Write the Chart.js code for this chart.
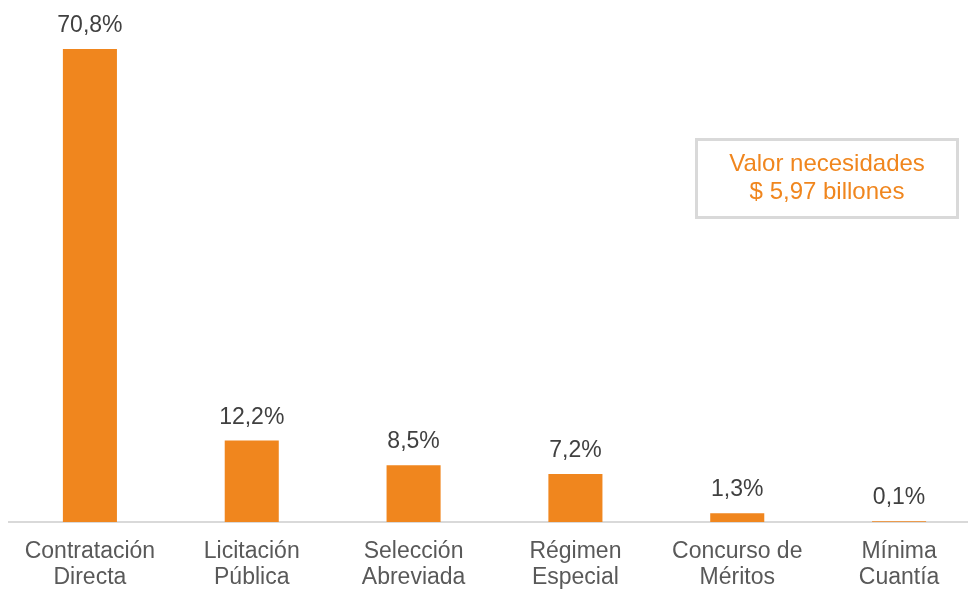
<!DOCTYPE html>
<html>
<head>
<meta charset="utf-8">
<script src="https://cdn.jsdelivr.net/npm/chart.js@4.4.1/dist/chart.umd.min.js"></script>
<style>
  html, body { margin: 0; padding: 0; background: #fff; overflow: hidden; }
  #wrap { width: 980px; height: 589px; }
</style>
</head>
<body>
<div id="wrap"><canvas id="modalidadChart"></canvas></div>
<script>
// Data
const categories = [
  ['Contratación', 'Directa'],
  ['Licitación', 'Pública'],
  ['Selección', 'Abreviada'],
  ['Régimen', 'Especial'],
  ['Concurso de', 'Méritos'],
  ['Mínima', 'Cuantía']
];
const shares = [70.8, 12.2, 8.5, 7.2, 1.3, 0.1];
const boxLines = ['Valor necesidades', '$ 5,97 billones'];

const orange = '#F0861E';
const font = '"Liberation Sans", Arial, sans-serif';

// Percent labels on top of each bar
const valueLabels = {
  id: 'valueLabels',
  afterDatasetsDraw(chart) {
    const ctx = chart.ctx;
    const meta = chart.getDatasetMeta(0);
    ctx.save();
    ctx.font = '23px ' + font;
    ctx.fillStyle = '#404040';
    ctx.textAlign = 'center';
    ctx.textBaseline = 'alphabetic';
    meta.data.forEach((bar, i) => {
      const txt = shares[i].toFixed(1).replace('.', ',') + '%';
      ctx.fillText(txt, bar.x, bar.y - 17);
    });
    ctx.restore();
  }
};

// Text box at the right
const infoBox = {
  id: 'infoBox',
  afterDraw(chart) {
    const ctx = chart.ctx;
    ctx.save();
    ctx.strokeStyle = '#d9d9d9';
    ctx.lineWidth = 3;
    ctx.strokeRect(696.5, 139.5, 261, 78);
    ctx.font = '24px ' + font;
    ctx.fillStyle = orange;
    ctx.textAlign = 'center';
    ctx.textBaseline = 'middle';
    ctx.fillText(boxLines[0], 827, 164);
    ctx.fillText(boxLines[1], 827, 192);
    ctx.restore();
  }
};

const ctx = document.getElementById('modalidadChart').getContext('2d');
new Chart(ctx, {
  type: 'bar',
  data: {
    labels: categories,
    datasets: [{
      data: shares,
      backgroundColor: orange,
      barPercentage: 1,
      categoryPercentage: 0.334
    }]
  },
  options: {
    responsive: true,
    maintainAspectRatio: false,
    animation: false,
    layout: { padding: { left: 9, right: 0, top: 1, bottom: 0 } },
    plugins: {
      legend: { display: false },
      tooltip: { enabled: false }
    },
    scales: {
      x: {
        grid: { display: false, drawTicks: false },
        border: { display: true, color: '#d9d9d9', width: 2 },
        ticks: {
          color: '#595959',
          font: { family: font, size: 23, lineHeight: 1.13 },
          padding: 17,
          maxRotation: 0,
          autoSkip: false
        },
        afterFit(scale) { scale.height = 67; }
      },
      y: {
        display: false,
        min: 0,
        max: 78
      }
    }
  },
  plugins: [valueLabels, infoBox]
});
</script>
</body>
</html>
